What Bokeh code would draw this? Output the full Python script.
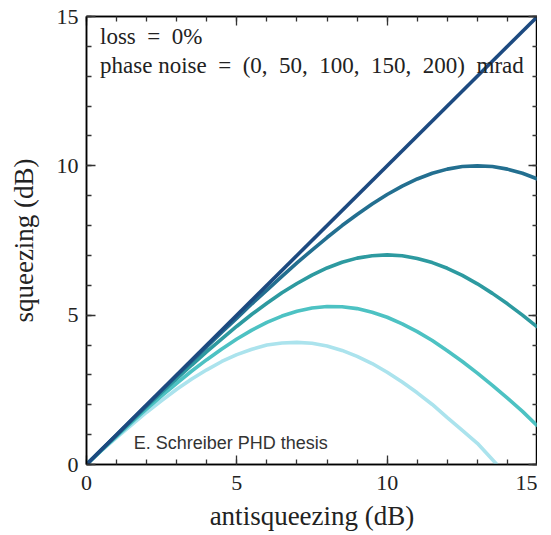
from bokeh.plotting import figure
from bokeh.models import LinearAxis, Label, Range1d, FixedTicker
from bokeh.embed import file_html
from bokeh.resources import INLINE

# ---- data ----
x_0 = [0, 15]
sq_0 = [0, 15]

x_50 = [0, 0.5, 1, 1.5, 2, 2.5, 3, 3.5, 4, 4.5, 5, 5.5, 6, 6.5, 7, 7.5, 8, 8.5, 9, 9.5,
        10, 10.5, 11, 11.5, 12, 12.5, 13, 13.5, 14, 14.5, 15]
sq_50 = [0, 0.50, 0.99, 1.49, 1.98, 2.48, 2.97, 3.46, 3.94, 4.43, 4.90, 5.38, 5.84, 6.30, 6.75,
         7.18, 7.60, 8.00, 8.37, 8.72, 9.04, 9.32, 9.56, 9.75, 9.89, 9.98, 10.0, 9.98, 9.89, 9.75, 9.56]

x_100 = x_50
sq_100 = [0, 0.49, 0.98, 1.46, 1.94, 2.41, 2.87, 3.33, 3.78, 4.21, 4.63, 5.03, 5.40, 5.75, 6.06,
          6.34, 6.58, 6.77, 6.91, 6.99, 7.02, 6.99, 6.90, 6.76, 6.57, 6.33, 6.05, 5.73, 5.38, 5.00, 4.60]

x_150 = x_50
sq_150 = [0, 0.48, 0.94, 1.41, 1.86, 2.30, 2.72, 3.13, 3.51, 3.87, 4.20, 4.50, 4.76, 4.97, 5.13,
          5.24, 5.29, 5.28, 5.22, 5.10, 4.93, 4.71, 4.45, 4.15, 3.81, 3.45, 3.06, 2.65, 2.22, 1.78, 1.29]

x_200 = [0, 0.5, 1, 1.5, 2, 2.5, 3, 3.5, 4, 4.5, 5, 5.5, 6, 6.5, 7, 7.5, 8, 8.5, 9, 9.5,
         10, 10.5, 11, 11.5, 12, 12.5, 13, 13.65]
sq_200 = [0, 0.46, 0.90, 1.33, 1.75, 2.14, 2.52, 2.86, 3.17, 3.45, 3.68, 3.86, 4.00, 4.07, 4.09,
          4.06, 3.97, 3.82, 3.62, 3.38, 3.09, 2.76, 2.40, 2.01, 1.57, 1.14, 0.71, 0]

series = [
    (x_200, sq_200, "#abe3ed"),
    (x_150, sq_150, "#4dc2c3"),
    (x_100, sq_100, "#2d9aa0"),
    (x_50, sq_50, "#236f90"),
    (x_0, sq_0, "#1d4a80"),
]

SERIF = "Liberation Serif"
EN = "\u2002"

p = figure(width=537, height=533, output_backend="svg", toolbar_location=None,
           x_range=Range1d(0, 15), y_range=Range1d(0, 15),
           min_border_left=86, min_border_top=16, min_border_right=0, min_border_bottom=60,
           x_axis_label="antisqueezing (dB)", y_axis_label="squeezing (dB)")
p.grid.visible = False
p.outline_line_color = "black"
p.outline_line_width = 1.5
p.background_fill_color = "white"
p.border_fill_color = "white"

for xs, ys, c in series:
    p.line(xs, ys, line_color=c, line_width=3.6)

ticker = FixedTicker(ticks=[0, 5, 10, 15], minor_ticks=list(range(0, 16)))

def style(ax, labels=True):
    ax.ticker = ticker
    ax.axis_line_color = "black"
    ax.axis_line_width = 1.5
    ax.major_tick_in = 9
    ax.major_tick_out = 0
    ax.minor_tick_in = 5
    ax.minor_tick_out = 0
    ax.major_tick_line_color = "#333333"
    ax.minor_tick_line_color = "#333333"
    ax.major_tick_line_width = 1.3
    ax.minor_tick_line_width = 1.3
    if labels:
        ax.major_label_text_font = SERIF
        ax.major_label_text_font_size = "22px"
        ax.major_label_text_color = "#222222"
        ax.axis_label_text_font = SERIF
        ax.axis_label_text_font_size = "27px"
        ax.axis_label_text_font_style = "normal"
        ax.axis_label_text_color = "#222222"
    else:
        ax.major_label_text_color = None
        ax.major_label_text_font_size = "0px"
        ax.major_label_standoff = 0

for ax in p.xaxis:
    style(ax)
    ax.major_label_standoff = 11
    ax.axis_label_standoff = 8
for ax in p.yaxis:
    style(ax)
    ax.major_label_standoff = 8
    ax.axis_label_standoff = 15

top = LinearAxis()
style(top, labels=False)
p.add_layout(top, "above")
right = LinearAxis()
style(right, labels=False)
p.add_layout(right, "right")

p.add_layout(Label(x=0.45, y=13.92, text="loss" + EN + "=" + EN + "0%", text_font=SERIF,
                   text_font_size="23px", text_color="#222222"))
p.add_layout(Label(x=0.45, y=12.93,
                   text="phase noise" + EN + "=" + EN + "(0," + EN + "50," + EN + "100," + EN + "150," + EN + "200)" + EN + "mrad",
                   text_font=SERIF, text_font_size="23px", text_color="#222222"))
p.add_layout(Label(x=1.57, y=0.4, text="E. Schreiber PHD thesis", text_font="Liberation Sans",
                   text_font_size="18px", text_color="#333333"))

open("out.html", "w").write(file_html(p, INLINE))
